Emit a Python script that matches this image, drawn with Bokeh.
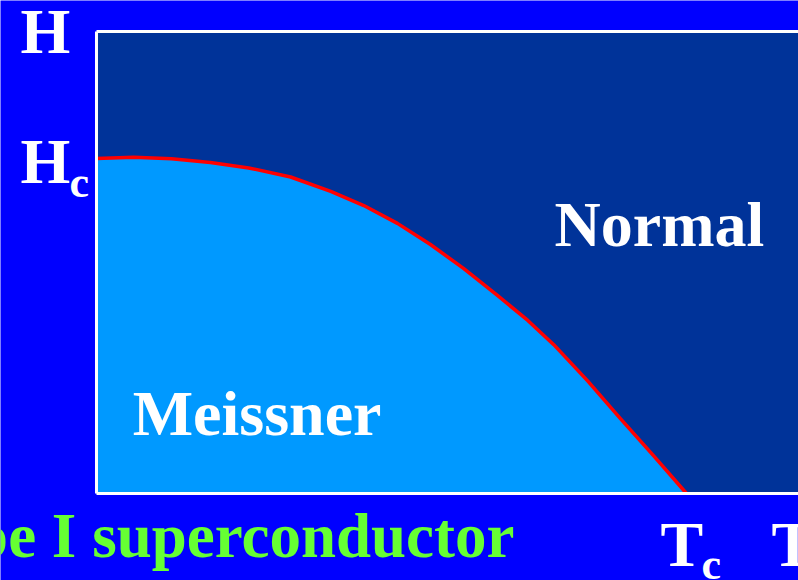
from bokeh.plotting import figure
from bokeh.models import Label, Range1d
from bokeh.embed import file_html
from bokeh.resources import INLINE

# Critical field curve Hc(T), normalised: T in units of Tc, H in units of Hc(0)
T_vals = [0.0, 0.063, 0.127, 0.193, 0.258, 0.329, 0.397, 0.453, 0.510, 0.566,
          0.622, 0.680, 0.731, 0.775, 0.832, 0.888, 0.944, 1.0]
H_vals = [0.997, 1.001, 0.996, 0.985, 0.969, 0.942, 0.899, 0.857, 0.804, 0.741,
          0.670, 0.589, 0.515, 0.443, 0.336, 0.223, 0.113, 0.0]
Tc = 1.0
Hc = 1.0
T_max = 1.19      # right end of the diagram (beyond the slide edge)
H_max = 1.375     # top of the diagram

BG = "#0000FF"
NORMAL = "#003399"
MEISSNER = "#0099FF"
FONT = "Liberation Serif"

# the frame covers the whole canvas so that the outer labels are not clipped
p = figure(width=798, height=580, output_backend="svg", toolbar_location=None,
           x_range=Range1d(-0.1627, 1.1898), y_range=Range1d(-0.2589, 1.4673),
           x_axis_location=None, y_axis_location=None,
           min_border=0)
p.border_fill_color = BG
p.background_fill_color = BG
p.outline_line_color = None
p.xgrid.visible = False
p.ygrid.visible = False

# diagram area (normal state)
p.quad(left=[0], right=[T_max], bottom=[0], top=[H_max], fill_color=NORMAL, line_color=None)
# Meissner state below the critical field curve
p.varea(x=T_vals, y1=[0] * len(T_vals), y2=H_vals, fill_color=MEISSNER)
p.line(x=T_vals, y=H_vals, line_color="#FF0000", line_width=3.5, line_join="round")
# white axes frame: left, top and bottom
p.line(x=[0, 0], y=[0, H_max], line_color="white", line_width=3)
p.line(x=[0, T_max], y=[H_max, H_max], line_color="white", line_width=3)
p.line(x=[0, T_max], y=[0, 0], line_color="white", line_width=3)

def lab(text, x, y, dx=0, dy=0, size=64, color="white", align="left"):
    # dx, dy: offsets in px from the anchor to the text's baseline start;
    # bottom-aligned box, so shift by the font descent
    p.add_layout(Label(x=x, y=y, x_offset=dx, y_offset=dy - 0.22 * size, text=text,
                       text_font=FONT, text_font_style="bold",
                       text_font_size=f"{size}px", text_color=color,
                       text_align=align, text_baseline="bottom"))

# axis symbols
lab("H", 0, H_max, -76, -21)
lab("H", 0, Hc, -76, -25)
lab("c", 0, Hc, -27, -40, size=44)
lab("T", Tc, 0, -26, -72)
lab("c", Tc, 0, 15, -86, size=44)
lab("T", Tc, 0, 85, -72)

# region names
lab("Normal", 0.778, 0.738, -1, 0)
lab("Meissner", 0.063, 0.173, -1, 0)

# title (cut at the left edge, as in the original)
lab("Type I superconductor", 0, 0, 418, -64, size=63, color="#66FF33", align="right")

open("out.html", "w").write(file_html(p, INLINE))
